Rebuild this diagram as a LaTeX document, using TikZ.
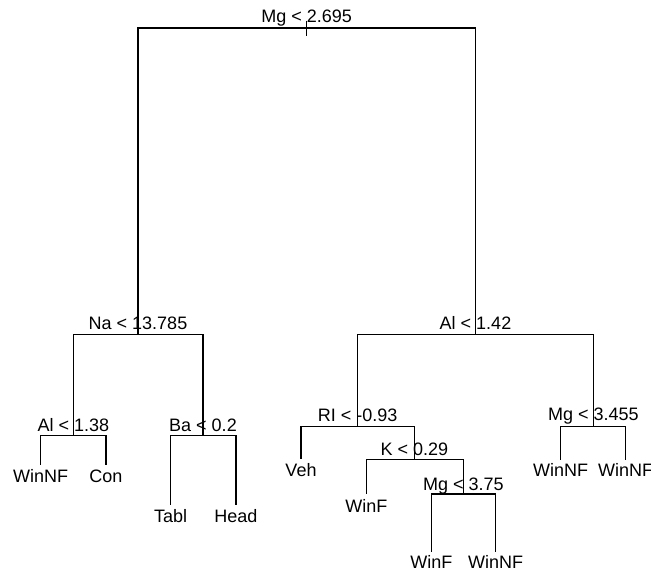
\documentclass[tikz,border=0pt]{standalone}
\usepackage{fontspec}
\setmainfont{Liberation Sans}
\begin{document}
\begin{tikzpicture}[x=1pt,y=-1pt,
  edge/.style={line width=1.1pt,black},
  split/.style={anchor=base,inner sep=0pt,font=\fontsize{18}{20}\selectfont},
  leaf/.style={anchor=base,inner sep=0pt,font=\fontsize{18}{20}\selectfont}]
\useasboundingbox (0,0) rectangle (651,573);
% tree node positions
\coordinate (rtop) at (306.7,20.7);
\coordinate (rbot) at (306.7,36);
\coordinate (root) at (306.7,28);
\coordinate (n2) at (138,334.3);
\coordinate (n3) at (475.5,334.3);
\coordinate (n4) at (73.3,435.7);
\coordinate (n5) at (203,435.7);
\coordinate (l8) at (40.7,465);
\coordinate (l9) at (106,465);
\coordinate (l10) at (170.7,505);
\coordinate (l11) at (236,505);
\coordinate (n6) at (357.7,426.7);
\coordinate (n7) at (593.3,426.7);
\coordinate (l12) at (301,459.3);
\coordinate (n13) at (414.3,459.3);
\coordinate (l26) at (366.3,494);
\coordinate (n27) at (463.3,494);
\coordinate (l54) at (431.3,551.7);
\coordinate (l55) at (495.7,551.7);
\coordinate (l14) at (560.7,460);
\coordinate (l15) at (625.7,460);
% edges
\draw[edge] (rtop) -- (rbot);
\draw[edge] (root) -| (n2);
\draw[edge] (root) -| (n3);
\draw[edge] (n2) -| (n4);
\draw[edge] (n2) -| (n5);
\draw[edge] (n4) -| (l8);
\draw[edge] (n4) -| (l9);
\draw[edge] (n5) -| (l10);
\draw[edge] (n5) -| (l11);
\draw[edge] (n3) -| (n6);
\draw[edge] (n3) -| (n7);
\draw[edge] (n6) -| (l12);
\draw[edge] (n6) -| (n13);
\draw[edge] (n13) -| (l26);
\draw[edge] (n13) -| (n27);
\draw[edge] (n27) -| (l54);
\draw[edge] (n27) -| (l55);
\draw[edge] (n7) -| (l14);
\draw[edge] (n7) -| (l15);
% split labels
\node[split] (t1) at ([yshift=5.3pt]root) {Mg < 2.695};
\node[split] (t2) at ([yshift=4.5pt]n2) {Na < 13.785};
\node[split] (t3) at ([yshift=4.5pt]n3) {Al < 1.42};
\node[split] (t4) at ([yshift=4.6pt]n4) {Al < 1.38};
\node[split] (t5) at ([yshift=4.6pt]n5) {Ba < 0.2};
\node[split] (t6) at ([yshift=5pt]n6) {RI < -0.93};
\node[split] (t7) at ([yshift=5.8pt]n7) {Mg < 3.455};
\node[split] (t13) at ([yshift=3.7pt]n13) {K < 0.29};
\node[split] (t27) at ([yshift=3.4pt]n27) {Mg < 3.75};
% leaf labels
\node[leaf] (f8) at ([yshift=-17.6pt]l8) {WinNF};
\node[leaf] (f9) at ([yshift=-17.6pt]l9) {Con};
\node[leaf] (f10) at ([yshift=-17.3pt]l10) {Tabl};
\node[leaf] (f11) at ([yshift=-17.3pt]l11) {Head};
\node[leaf] (f12) at ([yshift=-17.4pt]l12) {Veh};
\node[leaf] (f26) at ([yshift=-18.6pt]l26) {WinF};
\node[leaf] (f54) at ([yshift=-16.7pt]l54) {WinF};
\node[leaf] (f55) at ([yshift=-16.7pt]l55) {WinNF};
\node[leaf] (f14) at ([yshift=-16.7pt]l14) {WinNF};
\node[leaf] (f15) at ([yshift=-16.7pt]l15) {WinNF};
\end{tikzpicture}
\end{document}
